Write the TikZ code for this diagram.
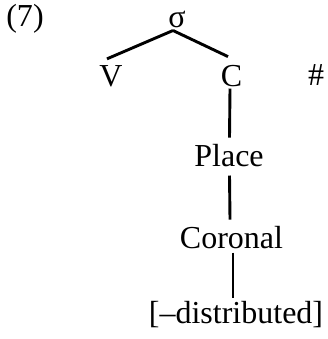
\documentclass[tikz,border=0pt]{standalone}
\usepackage{fontspec}
\setmainfont{Liberation Serif}
\usetikzlibrary{calc}
\tikzset{
  lab/.style={inner sep=0pt, anchor=base, font=\fontsize{32}{38}\selectfont},
  branch/.style={line width=2.9pt}
}
\begin{document}
\begin{tikzpicture}
\useasboundingbox (0,0) rectangle (327pt,-339pt);
% example number and tree labels
\node[lab] (num) at (25pt,-27pt) {(7)};
\node[lab] (sigma) at (177pt,-28pt) {σ};
\node[lab] (V) at (111pt,-87pt) {V};
\node[lab] (C) at (231.5pt,-87pt) {C};
\node[lab] (hash) at (316pt,-86pt) {\#};
\node[lab] (place) at (229pt,-166pt) {Place};
\node[lab] (coronal) at (231.5pt,-248pt) {Coronal};
\node[lab] (dist) at (236pt,-323pt) {[–distributed]};
% association lines
\draw[branch] ($(sigma.south)+(-4pt,-2pt)$) -- ($(V.north)+(-4pt,7pt)$);
\draw[branch] ($(sigma.south)+(-4pt,-2pt)$) -- ($(C.north)+(-3.5pt,9pt)$);
\draw[branch] ($(C.south)+(-1.5pt,-1pt)$) -- ($(place.north)+(0.5pt,6pt)$);
\draw[branch] ($(place.south)+(0.5pt,-9pt)$) -- ($(coronal.north)+(-1.5pt,6pt)$);
\draw[branch] ($(coronal.south)+(1.5pt,-4pt)$) -- ($(dist.north)+(-3pt,3pt)$);
\end{tikzpicture}
\end{document}
